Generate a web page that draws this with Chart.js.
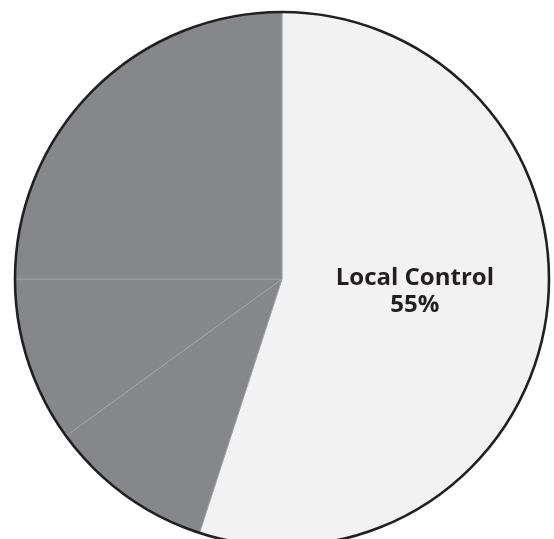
<!DOCTYPE html>
<html>
<head>
<meta charset="utf-8">
<script src="https://cdn.jsdelivr.net/npm/chart.js@4.4.1/dist/chart.umd.min.js"></script>
<style>
  html, body { margin: 0; padding: 0; background: #ffffff; overflow: hidden; }
  #wrap { width: 554px; height: 558px; }
</style>
</head>
<body>
<div id="wrap"><canvas id="pie" width="554" height="558"></canvas></div>
<script>
// Datos del gráfico
const categories = ['Local Control', 'Other A', 'Other B', 'Other C'];
const shares = [55, 10, 10, 25];
const sliceColors = ['#f2f2f2', '#86878b', '#86878b', '#86878b'];
const shownLabels = ['Local Control'];

// Dibuja el contorno negro alrededor del círculo
const outlinePlugin = {
    id: 'outline',
    afterDatasetsDraw(chart) {
        const arc = chart.getDatasetMeta(0).data[0];
        if (!arc) return;
        const ctx = chart.ctx;
        ctx.save();
        ctx.beginPath();
        ctx.arc(arc.x, arc.y, arc.outerRadius, 0, Math.PI * 2);
        ctx.lineWidth = 2.6;
        ctx.strokeStyle = '#231f20';
        ctx.stroke();
        ctx.restore();
    }
};

// Etiqueta con nombre y porcentaje dentro del sector
const labelPlugin = {
    id: 'sliceLabels',
    afterDatasetsDraw(chart) {
        const meta = chart.getDatasetMeta(0);
        const ctx = chart.ctx;
        const total = shares.reduce((a, b) => a + b, 0);
        ctx.save();
        ctx.fillStyle = '#231f20';
        ctx.font = 'bold 24px "Open Sans"';
        ctx.textAlign = 'center';
        ctx.textBaseline = 'middle';
        meta.data.forEach((el, i) => {
            if (!shownLabels.includes(categories[i])) return;
            const pos = el.tooltipPosition();
            const x = pos.x + 1;
            const y = pos.y - 9;
            ctx.fillText(categories[i], x, y - 13);
            ctx.fillText(Math.round(shares[i] / total * 100) + '%', x, y + 14);
        });
        ctx.restore();
    }
};

new Chart(document.getElementById('pie').getContext('2d'), {
    type: 'pie',
    data: {
        labels: categories,
        datasets: [{
            data: shares,
            backgroundColor: sliceColors,
            borderColor: '#a3a4a7',
            borderWidth: 0.8
        }]
    },
    options: {
        responsive: false,
        animation: false,
        radius: 267,
        layout: { padding: { left: 10, right: 0, top: 0, bottom: 0 } },
        plugins: {
            legend: { display: false },
            tooltip: { enabled: false }
        }
    },
    plugins: [outlinePlugin, labelPlugin]
});
</script>
</body>
</html>
